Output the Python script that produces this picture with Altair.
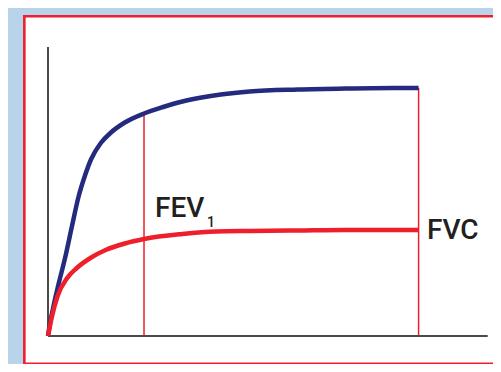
import altair as alt
import pandas as pd

# Blue curve (total expired volume vs time)
blue_t = [0, 0.02, 0.06, 0.1, 0.18, 0.25, 0.32, 0.38, 0.45, 0.55, 0.65, 0.8, 1.0,
          1.2, 1.4, 1.6, 1.8, 2.1, 2.6, 3.1, 3.6, 3.86]
blue_v = [0, 0.24, 0.62, 0.96, 1.58, 2.2, 2.8, 3.18, 3.54, 3.86, 4.06, 4.27, 4.45,
          4.58, 4.69, 4.77, 4.83, 4.89, 4.93, 4.95, 4.96, 4.96]
# Red curve
red_t = [0, 0.02, 0.04, 0.1, 0.2, 0.3, 0.45, 0.6, 0.8, 1.0, 1.4, 1.75, 2.1, 2.6, 3.1, 3.86]
red_v = [0, 0.2, 0.38, 0.8, 1.16, 1.36, 1.57, 1.72, 1.85, 1.94, 2.04, 2.09, 2.1, 2.11, 2.12, 2.12]

# Vertical marker lines (FEV1 at 1 s, FVC at end)
marker_t = [1.0, 3.86]
marker_top = [4.45, 4.96]

# Axis extents
x_axis_end = 4.58
y_axis_end = 5.78

# Labels
label_text = ["FEV", "1", "FVC"]
label_t = [1.115, 1.656, 3.948]
label_v = [2.38, 2.18, 1.94]
label_size = [28, 14, 28]

# Panel frame as three filled bars: top, left, bottom (no right edge)
X_MIN, X_MAX = -0.25, 4.635
Y_MIN, Y_MAX = -0.56, 6.4
bar_x = [X_MIN - 0.01, X_MIN - 0.01, X_MIN - 0.01]
bar_x2 = [X_MAX, X_MIN + 0.017, X_MAX]
bar_y = [Y_MAX + 0.02, Y_MAX + 0.02, -0.53]
bar_y2 = [Y_MAX - 0.03, Y_MIN, Y_MIN]

W, H = 469, 348
xs = alt.Scale(domain=[X_MIN, X_MAX], nice=False, zero=False)
ys = alt.Scale(domain=[Y_MIN, Y_MAX], nice=False, zero=False)

curves = pd.DataFrame({
    "t": blue_t + red_t,
    "v": blue_v + red_v,
    "s": ["blue"] * len(blue_t) + ["red"] * len(red_t),
})
markers = pd.DataFrame({"t": marker_t, "top": marker_top, "base": [0, 0]})
axes = pd.DataFrame({"x": [0, 0], "x2": [x_axis_end, 0], "y": [0, 0], "y2": [0, y_axis_end]})
labels = pd.DataFrame({"txt": label_text, "t": label_t, "v": label_v, "size": label_size})
frame_df = pd.DataFrame({"x": bar_x, "x2": bar_x2, "y": bar_y, "y2": bar_y2})

BLUE = "#242a7e"
RED = "#ee1f2b"

axis_rules = alt.Chart(axes).mark_rule(color="#4a4a4a", strokeWidth=2).encode(
    x=alt.X("x:Q", scale=xs, axis=None), x2="x2:Q",
    y=alt.Y("y:Q", scale=ys, axis=None), y2="y2:Q",
)

frame = alt.Chart(frame_df).mark_rect(color=RED, strokeWidth=0).encode(
    x=alt.X("x:Q", scale=xs, axis=None), x2="x2:Q",
    y=alt.Y("y:Q", scale=ys, axis=None), y2="y2:Q",
)

marker_rules = alt.Chart(markers).mark_rule(color=RED, strokeWidth=1.5).encode(
    x=alt.X("t:Q", scale=xs, axis=None),
    y=alt.Y("base:Q", scale=ys, axis=None), y2="top:Q",
)

lines = alt.Chart(curves).mark_line(strokeWidth=4.5, interpolate="monotone").encode(
    x=alt.X("t:Q", scale=xs, axis=None),
    y=alt.Y("v:Q", scale=ys, axis=None),
    color=alt.Color("s:N", scale=alt.Scale(domain=["blue", "red"], range=[BLUE, RED]), legend=None),
    detail="s:N",
)

texts = alt.Chart(labels).mark_text(align="left", baseline="alphabetic", font="Roboto",
                                     fontWeight=500, color="#231f20").encode(
    x=alt.X("t:Q", scale=xs, axis=None),
    y=alt.Y("v:Q", scale=ys, axis=None),
    text="txt:N",
    size=alt.Size("size:Q", scale=None, legend=None),
)

chart = alt.layer(
    marker_rules, axis_rules, lines, texts, frame
).properties(
    width=W, height=H,
    padding={"left": 16, "top": 8, "right": 0, "bottom": 0},
    background="#b8d4ea",
    autosize=alt.AutoSizeParams(type="none"),
).configure_view(fill="white", strokeWidth=0)

chart.save("out.html", embed_options={"renderer": "svg", "actions": False})
